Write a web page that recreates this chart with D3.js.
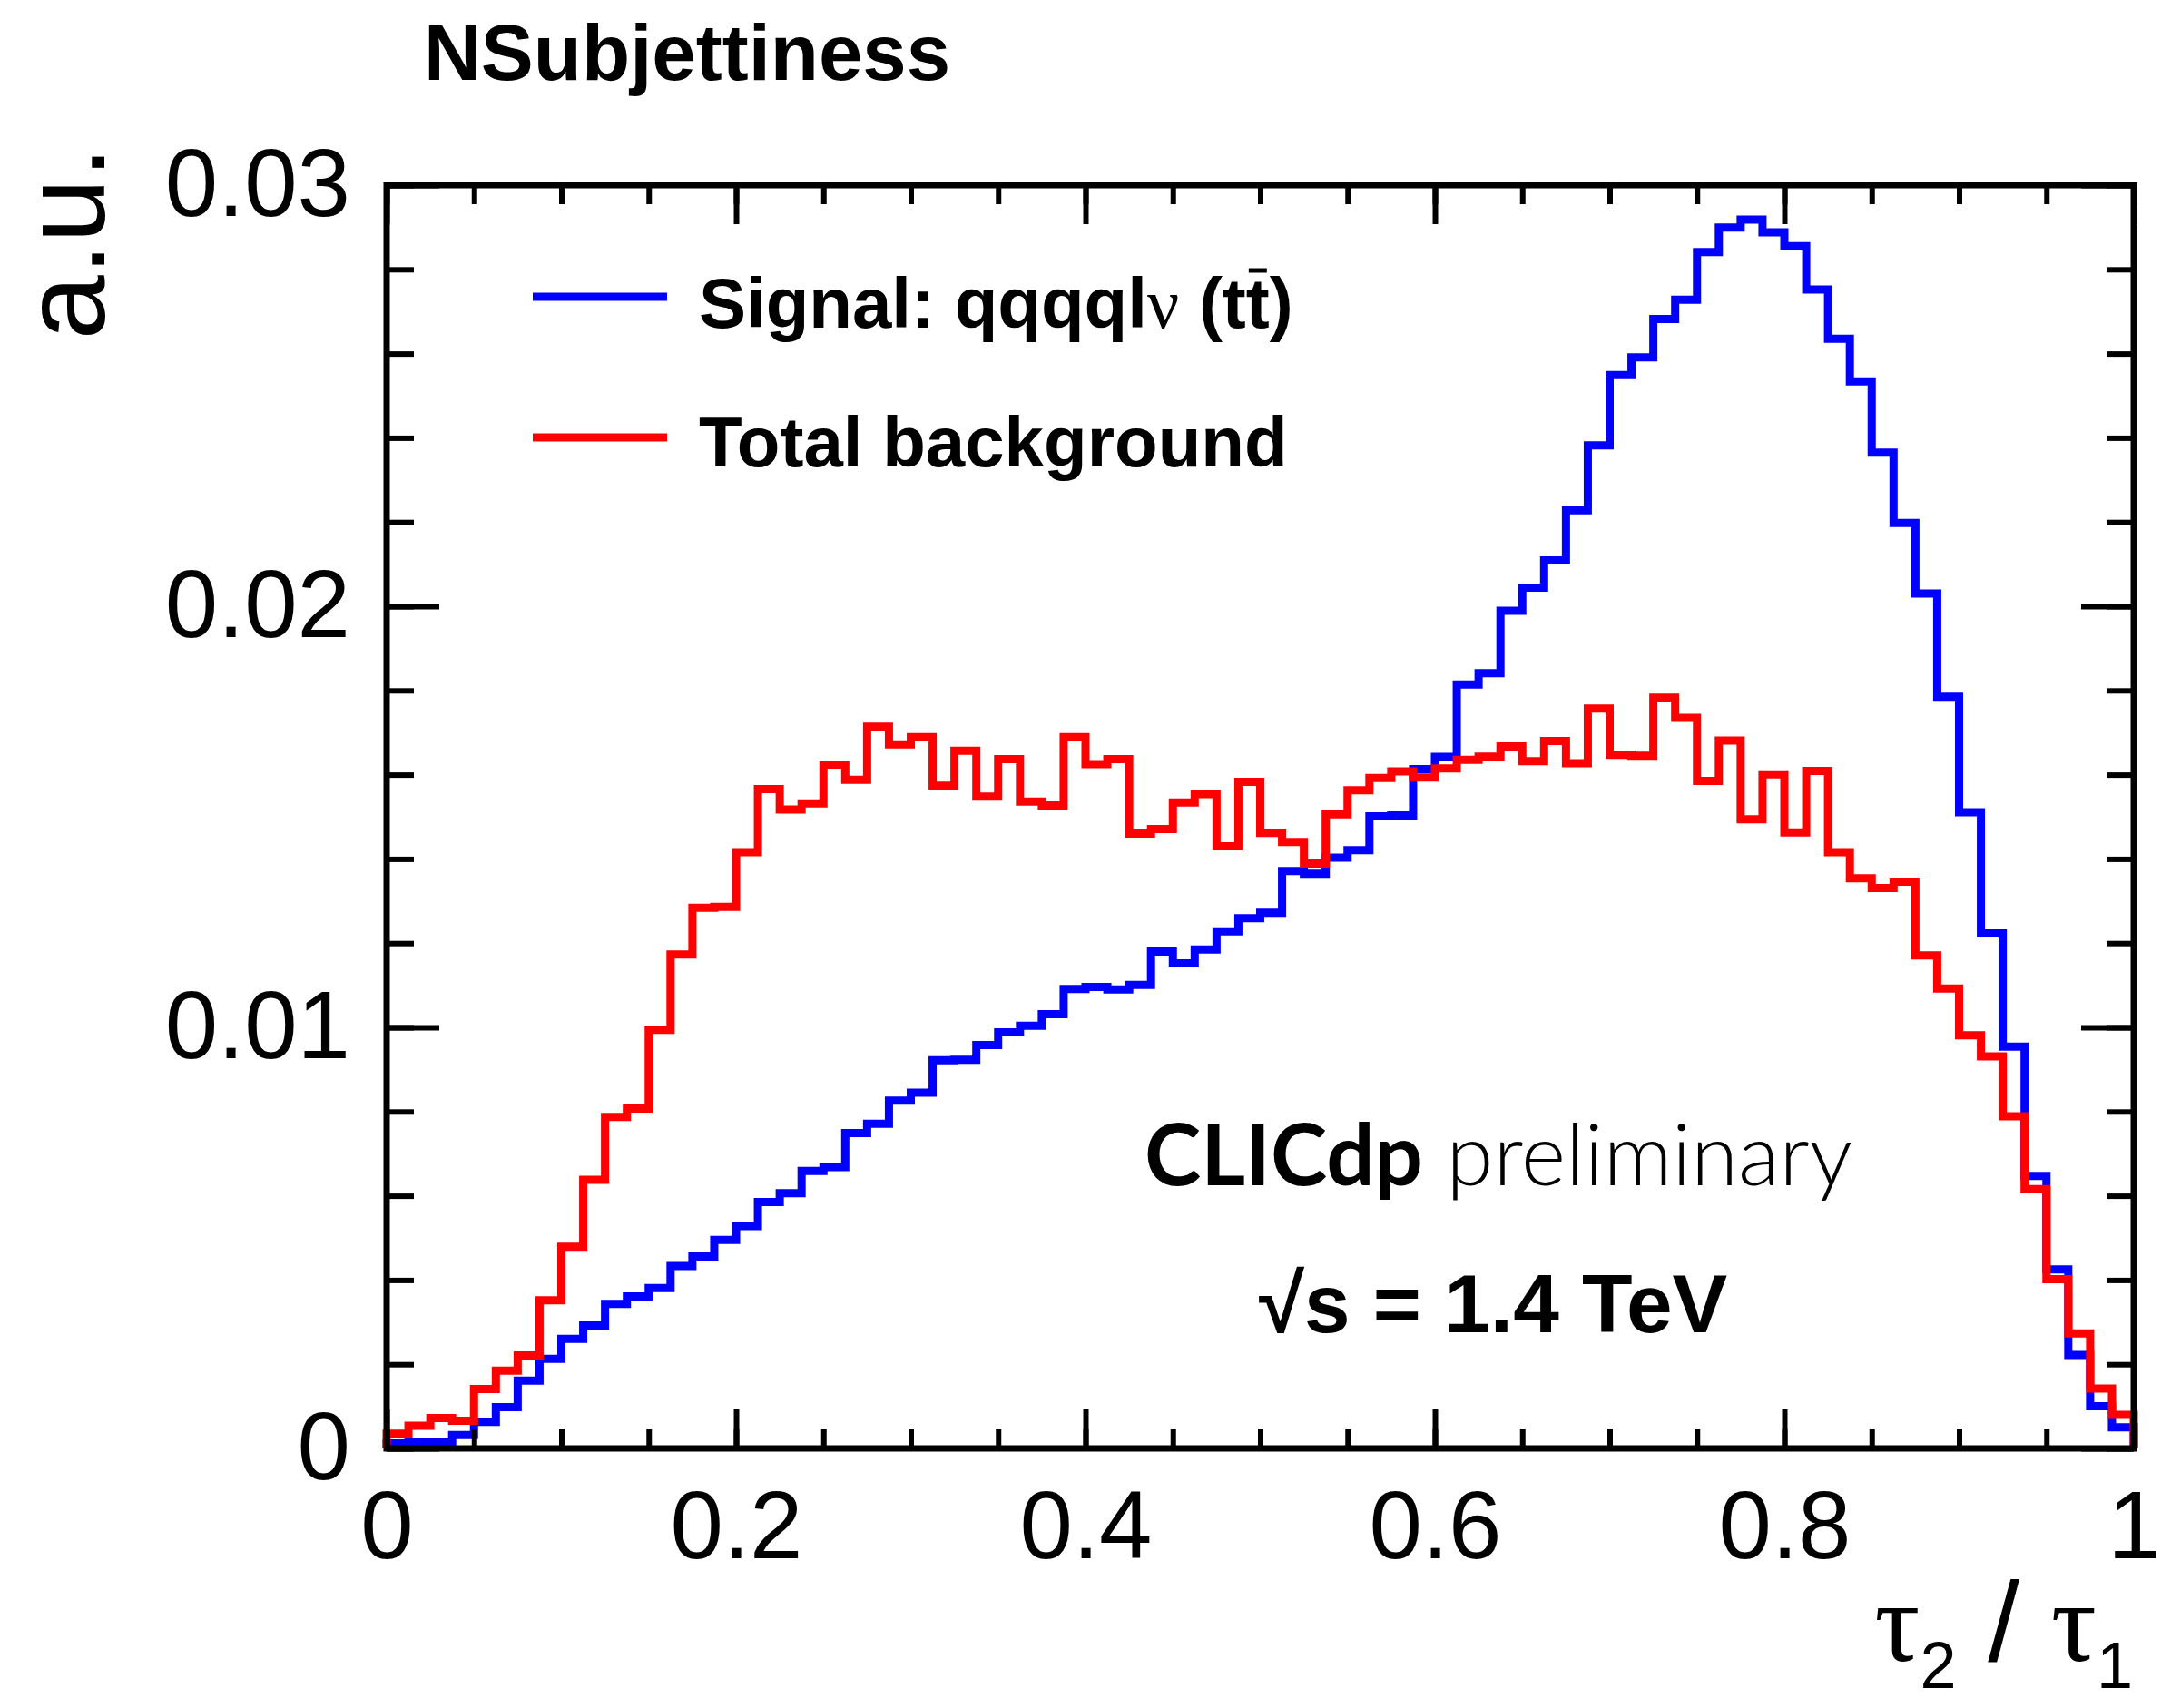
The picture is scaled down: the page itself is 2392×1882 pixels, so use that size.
<!DOCTYPE html>
<html>
<head>
<meta charset="utf-8">
<script src="https://cdn.jsdelivr.net/npm/d3@7"></script>
<style>
  html, body { margin: 0; padding: 0; background: #ffffff; }
  svg { display: block; }
</style>
</head>
<body>
<svg id="chart" width="2392" height="1882"></svg>
<script>
// tau2/tau1 distribution, 80 bins over [0, 1], normalised (a.u.)
const signal = [
  0.00012, 0.00014, 0.00014, 0.00032, 0.00063, 0.00098, 0.00161, 0.00213, 0.00260, 0.00292,
  0.00343, 0.00361, 0.00381, 0.00433, 0.00456, 0.00495, 0.00528, 0.00585, 0.00606, 0.00659,
  0.00668, 0.00749, 0.00771, 0.00826, 0.00845, 0.00922, 0.00923, 0.00958, 0.00988, 0.01004,
  0.01031, 0.01091, 0.01096, 0.01090, 0.01101, 0.01180, 0.01152, 0.01185, 0.01228, 0.01259,
  0.01272, 0.01371, 0.01365, 0.01403, 0.01421, 0.01501, 0.01503, 0.01613, 0.01642, 0.01814,
  0.01841, 0.01989, 0.02044, 0.02109, 0.02228, 0.02382, 0.02549, 0.02591, 0.02682, 0.02728,
  0.02841, 0.02899, 0.02918, 0.02888, 0.02855, 0.02752, 0.02635, 0.02534, 0.02365, 0.02198,
  0.02030, 0.01785, 0.01511, 0.01223, 0.00954, 0.00647, 0.00425, 0.00222, 0.00100, 0.00050
];
const background = [
  0.00035, 0.00054, 0.00072, 0.00066, 0.00141, 0.00185, 0.00221, 0.00352, 0.00479, 0.00638,
  0.00787, 0.00807, 0.00994, 0.01173, 0.01284, 0.01286, 0.01416, 0.01566, 0.01517, 0.01532,
  0.01624, 0.01588, 0.01714, 0.01672, 0.01689, 0.01574, 0.01657, 0.01548, 0.01637, 0.01536,
  0.01527, 0.01689, 0.01625, 0.01637, 0.01460, 0.01471, 0.01534, 0.01554, 0.01430, 0.01583,
  0.01462, 0.01440, 0.01389, 0.01506, 0.01563, 0.01592, 0.01608, 0.01593, 0.01615, 0.01635,
  0.01643, 0.01667, 0.01632, 0.01680, 0.01627, 0.01757, 0.01647, 0.01645, 0.01783, 0.01735,
  0.01585, 0.01681, 0.01494, 0.01601, 0.01463, 0.01609, 0.01416, 0.01354, 0.01331, 0.01346,
  0.01171, 0.01092, 0.00981, 0.00931, 0.00789, 0.00616, 0.00402, 0.00273, 0.00142, 0.00080
];
const xRange = [0, 1];
const yRange = [0, 0.03];
const xMajorTicks = [0, 0.2, 0.4, 0.6, 0.8, 1];
const xTickLabels = ["0", "0.2", "0.4", "0.6", "0.8", "1"];
const xMinorStep = 0.05;
const yMajorTicks = [0, 0.01, 0.02, 0.03];
const yTickLabels = ["0", "0.01", "0.02", "0.03"];
const yMinorStep = 0.002;
const seriesColors = { signal: "#0000ff", background: "#ff0000" };

const SANS = "'Liberation Sans', Arial, Helvetica, sans-serif";
const SERIF = "'Liberation Serif', 'Times New Roman', serif";

const svg = d3.select("#chart");
const frame = { left: 426, right: 2351, top: 204, bottom: 1596 };

const x = d3.scaleLinear().domain(xRange).range([frame.left, frame.right]);
const y = d3.scaleLinear().domain(yRange).range([frame.bottom, frame.top]);

// histogram outline: bin edges and heights, closed down to zero at both ends
const nBins = signal.length;
const binWidth = (xRange[1] - xRange[0]) / nBins;
const lowEdges = d3.range(nBins).map(i => xRange[0] + i * binWidth);

function histPoints(values) {
  const pts = [[xRange[0], 0]];
  values.forEach((v, i) => pts.push([lowEdges[i], v]));
  pts.push([xRange[1], values[values.length - 1]]);
  pts.push([xRange[1], 0]);
  return pts;
}
const step = d3.line()
  .x(d => x(d[0]))
  .y(d => y(d[1]))
  .curve(d3.curveStepAfter);

const hists = svg.append("g").attr("class", "hists");
hists.append("path")
  .attr("d", step(histPoints(signal)))
  .attr("fill", "none")
  .attr("stroke", seriesColors.signal)
  .attr("stroke-width", 9)
  .attr("stroke-linejoin", "miter");
hists.append("path")
  .attr("d", step(histPoints(background)))
  .attr("fill", "none")
  .attr("stroke", seriesColors.background)
  .attr("stroke-width", 9)
  .attr("stroke-linejoin", "miter");

// axes: inward ticks on all four sides
const xMinor = d3.range(xRange[0], xRange[1] + 1e-9, xMinorStep);
const yMinor = d3.range(yRange[0], yRange[1] + 1e-9, yMinorStep);

function styleAxis(g) {
  g.select(".domain").remove();
  g.selectAll(".tick line").attr("stroke", "#000").attr("stroke-width", 6);
  g.selectAll(".tick text")
    .attr("fill", "#000")
    .attr("font-family", SANS)
    .attr("font-size", 105);
}

svg.append("g")
  .attr("transform", `translate(0,${frame.bottom})`)
  .call(d3.axisBottom(x).tickValues(xMinor).tickSizeInner(-21).tickSizeOuter(0).tickFormat(""))
  .call(styleAxis);
svg.append("g")
  .attr("transform", `translate(0,${frame.bottom})`)
  .call(d3.axisBottom(x).tickValues(xMajorTicks).tickSizeInner(-43).tickSizeOuter(0)
    .tickPadding(46).tickFormat((d, i) => xTickLabels[i]))
  .call(styleAxis);
svg.append("g")
  .attr("transform", `translate(0,${frame.top})`)
  .call(d3.axisTop(x).tickValues(xMinor).tickSizeInner(-21).tickSizeOuter(0).tickFormat(""))
  .call(styleAxis);
svg.append("g")
  .attr("transform", `translate(0,${frame.top})`)
  .call(d3.axisTop(x).tickValues(xMajorTicks).tickSizeInner(-43).tickSizeOuter(0).tickFormat(""))
  .call(styleAxis);

svg.append("g")
  .attr("transform", `translate(${frame.left},0)`)
  .call(d3.axisLeft(y).tickValues(yMinor).tickSizeInner(-30).tickSizeOuter(0).tickFormat(""))
  .call(styleAxis);
svg.append("g")
  .attr("transform", `translate(${frame.left},0)`)
  .call(d3.axisLeft(y).tickValues(yMajorTicks).tickSizeInner(-58).tickSizeOuter(0)
    .tickPadding(40).tickFormat((d, i) => yTickLabels[i]))
  .call(styleAxis);
svg.append("g")
  .attr("transform", `translate(${frame.right},0)`)
  .call(d3.axisRight(y).tickValues(yMinor).tickSizeInner(-30).tickSizeOuter(0).tickFormat(""))
  .call(styleAxis);
svg.append("g")
  .attr("transform", `translate(${frame.right},0)`)
  .call(d3.axisRight(y).tickValues(yMajorTicks).tickSizeInner(-58).tickSizeOuter(0).tickFormat(""))
  .call(styleAxis);

// frame
svg.append("rect")
  .attr("x", frame.left).attr("y", frame.top)
  .attr("width", frame.right - frame.left).attr("height", frame.bottom - frame.top)
  .attr("fill", "none").attr("stroke", "#000").attr("stroke-width", 7);

// title
svg.append("text")
  .attr("x", 467).attr("y", 88)
  .attr("font-family", SANS).attr("font-weight", "bold").attr("font-size", 87)
  .text("NSubjettiness");

// y-axis title
svg.append("text")
  .attr("transform", "translate(115,161) rotate(-90)")
  .attr("text-anchor", "end")
  .attr("font-family", SANS).attr("font-size", 128)
  .text("a.u.");

// x-axis title: tau2 / tau1
const xt = svg.append("text")
  .attr("x", 2350).attr("y", 1830)
  .attr("text-anchor", "end")
  .attr("font-family", SANS).attr("font-size", 125);
xt.append("tspan").attr("font-family", SERIF).text("τ");
xt.append("tspan").attr("font-size", 72).attr("dy", 30).text("2");
xt.append("tspan").attr("dy", -30).text(" / ");
xt.append("tspan").attr("font-family", SERIF).text("τ");
xt.append("tspan").attr("font-size", 72).attr("dy", 30).text("1");

// legend
const legendEntries = [
  { key: "signal", y: 327, baseline: 361 },
  { key: "background", y: 482, baseline: 514 }
];
legendEntries.forEach(e => {
  svg.append("line")
    .attr("x1", 587).attr("x2", 735)
    .attr("y1", e.y).attr("y2", e.y)
    .attr("stroke", seriesColors[e.key]).attr("stroke-width", 9);
});
const sigText = svg.append("text")
  .attr("x", 770).attr("y", legendEntries[0].baseline)
  .attr("font-family", SANS).attr("font-weight", "bold").attr("font-size", 78);
sigText.append("tspan").text("Signal: qqqql");
sigText.append("tspan").attr("font-family", SERIF).attr("font-weight", "normal").text("ν");
sigText.append("tspan").text(" (tt)");
// bar over the anti-top
{
  const node = sigText.node();
  const ext = node.getExtentOfChar(17);
  svg.append("line")
    .attr("x1", ext.x + 3).attr("x2", ext.x + ext.width - 3)
    .attr("y1", legendEntries[0].baseline - 63).attr("y2", legendEntries[0].baseline - 63)
    .attr("stroke", "#000").attr("stroke-width", 5);
}
svg.append("text")
  .attr("x", 770).attr("y", legendEntries[1].baseline)
  .attr("font-family", SANS).attr("font-weight", "bold").attr("font-size", 78)
  .text("Total background");

// experiment label
const clic = svg.append("text")
  .attr("x", 1261).attr("y", 1306)
  .attr("font-family", "Lato, 'Open Sans', sans-serif").attr("font-size", 94);
clic.append("tspan").attr("font-weight", 700).text("CLICdp");
clic.append("tspan").attr("font-weight", 300).text(" preliminary");

svg.append("text")
  .attr("x", 1387).attr("y", 1468)
  .attr("font-family", SANS).attr("font-weight", "bold").attr("font-size", 91)
  .text("√s = 1.4 TeV");
</script>
</body>
</html>
